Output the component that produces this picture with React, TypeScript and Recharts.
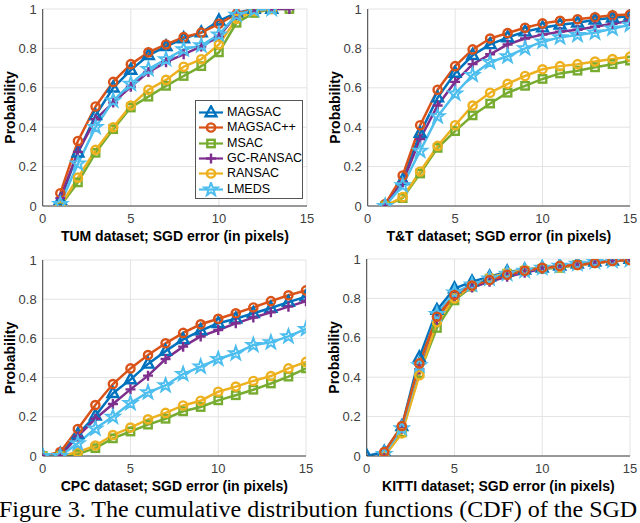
import React from 'react';
import { LineChart, Line, XAxis, YAxis, CartesianGrid, Legend } from 'recharts';

// ---------- series meta ----------
const SERIES = ['MAGSAC', 'MAGSAC++', 'MSAC', 'GC-RANSAC', 'RANSAC', 'LMEDS'];
const COLORS = ['#0072BD', '#D95319', '#77AC30', '#7E2F8E', '#EDB120', '#4DBEEE'];
const MARKERS = ['triangle', 'circle', 'square', 'plus', 'circle', 'star'];

const X_TICKS = [0, 5, 10, 15];
const Y_TICKS = [0, 0.2, 0.4, 0.6, 0.8, 1];

// ---------- TUM ----------
const TUM_X = [1, 2, 3, 4, 5, 6, 7, 8, 9, 10, 11, 12, 13, 14];
const TUM_MAGSAC = [0.03, 0.27, 0.46, 0.6, 0.69, 0.765, 0.81, 0.85, 0.88, 0.94, 0.98, 1.0, 1.0];
const TUM_MAGSACPP = [0.065, 0.33, 0.505, 0.63, 0.72, 0.78, 0.82, 0.857, 0.88, 0.925, 0.975, 1.0, 1.0];
const TUM_MSAC = [0.0, 0.12, 0.27, 0.39, 0.5, 0.555, 0.61, 0.66, 0.71, 0.78, 0.93, 0.98, 1.0, 1.0];
const TUM_GC = [0.04, 0.275, 0.44, 0.525, 0.605, 0.68, 0.73, 0.77, 0.81, 0.86, 0.97, 0.99, 1.0, 1.0];
const TUM_RANSAC = [0.0, 0.144, 0.285, 0.4, 0.51, 0.59, 0.64, 0.707, 0.745, 0.82, 0.95, 0.99, 1.0];
const TUM_LMEDS = [0.01, 0.215, 0.4, 0.535, 0.62, 0.695, 0.745, 0.795, 0.815, 0.87, 0.97, 0.995, 1.0];

// ---------- T&T ----------
const TT_X = [1, 2, 3, 4, 5, 6, 7, 8, 9, 10, 11, 12, 13, 14, 15];
const TT_MAGSAC = [0.0, 0.13, 0.37, 0.55, 0.675, 0.765, 0.82, 0.855, 0.885, 0.905, 0.92, 0.93, 0.945, 0.955, 0.965];
const TT_MAGSACPP = [0.01, 0.155, 0.41, 0.59, 0.71, 0.795, 0.85, 0.878, 0.905, 0.927, 0.94, 0.948, 0.958, 0.968, 0.972];
const TT_MSAC = [0.0, 0.04, 0.165, 0.295, 0.38, 0.46, 0.52, 0.575, 0.61, 0.645, 0.673, 0.687, 0.704, 0.72, 0.738];
const TT_GC = [0.0, 0.12, 0.34, 0.51, 0.63, 0.72, 0.77, 0.82, 0.85, 0.87, 0.885, 0.895, 0.91, 0.925, 0.94];
const TT_RANSAC = [0.0, 0.045, 0.175, 0.305, 0.41, 0.51, 0.575, 0.62, 0.66, 0.694, 0.71, 0.72, 0.733, 0.746, 0.758];
const TT_LMEDS = [0.0, 0.105, 0.28, 0.455, 0.57, 0.665, 0.73, 0.76, 0.8, 0.834, 0.856, 0.868, 0.88, 0.9, 0.92];

// ---------- CPC ----------
const CPC_X = [0, 1, 2, 3, 4, 5, 6, 7, 8, 9, 10, 11, 12, 13, 14, 15];
const CPC_MAGSAC = [0.0, 0.01, 0.11, 0.205, 0.32, 0.39, 0.47, 0.535, 0.595, 0.64, 0.677, 0.7, 0.728, 0.755, 0.785, 0.813];
const CPC_MAGSACPP = [0.0, 0.02, 0.138, 0.26, 0.367, 0.447, 0.515, 0.575, 0.628, 0.672, 0.7, 0.728, 0.758, 0.79, 0.82, 0.845];
const CPC_MSAC = [0.0, 0.0, 0.01, 0.04, 0.09, 0.125, 0.16, 0.19, 0.228, 0.25, 0.284, 0.31, 0.338, 0.37, 0.405, 0.447];
const CPC_GC = [0.0, 0.0, 0.1, 0.19, 0.265, 0.34, 0.41, 0.495, 0.558, 0.61, 0.643, 0.677, 0.706, 0.733, 0.762, 0.79];
const CPC_RANSAC = [0.0, 0.0, 0.02, 0.053, 0.107, 0.145, 0.187, 0.22, 0.258, 0.282, 0.328, 0.354, 0.383, 0.408, 0.447, 0.48];
const CPC_LMEDS = [0.0, 0.0, 0.065, 0.14, 0.2, 0.27, 0.325, 0.36, 0.418, 0.456, 0.495, 0.524, 0.566, 0.58, 0.61, 0.648];

// ---------- KITTI ----------
const KITTI_X = [0, 1, 2, 3, 4, 5, 6, 7, 8, 9, 10, 11, 12, 13, 14, 15];
const KITTI_MAGSAC = [0.0, 0.02, 0.15, 0.5, 0.74, 0.85, 0.885, 0.91, 0.935, 0.945, 0.955, 0.965, 0.975, 0.985, 0.99, 1.0];
const KITTI_MAGSACPP = [null, 0.02, 0.152, 0.47, 0.707, 0.817, 0.865, 0.893, 0.92, 0.94, 0.955, 0.965, 0.97, 0.98, 0.99, 0.995];
const KITTI_MSAC = [null, 0.0, 0.12, 0.42, 0.65, 0.79, 0.86, 0.9, 0.925, 0.94, 0.95, 0.955, 0.97, 0.98, 0.99, 0.995];
const KITTI_GC = [null, 0.0, 0.14, 0.44, 0.69, 0.81, 0.855, 0.885, 0.91, 0.93, 0.95, 0.96, 0.97, 0.98, 0.99, 0.995];
const KITTI_RANSAC = [null, 0.0, 0.115, 0.41, 0.68, 0.8, 0.865, 0.905, 0.93, 0.945, 0.955, 0.96, 0.97, 0.98, 0.99, 0.995];
const KITTI_LMEDS = [null, 0.01, 0.14, 0.46, 0.72, 0.83, 0.87, 0.9, 0.925, 0.94, 0.955, 0.965, 0.975, 0.985, 0.99, 0.995];

const buildRows = (xs: number[], cols: (number | null)[][]) =>
  xs.map((x, i) => {
    const row: Record<string, number | null> = { x };
    SERIES.forEach((s, k) => {
      const v = cols[k][i];
      row[s] = v === undefined ? null : v;
    });
    return row;
  });

const TUM_DATA = buildRows(TUM_X, [TUM_MAGSAC, TUM_MAGSACPP, TUM_MSAC, TUM_GC, TUM_RANSAC, TUM_LMEDS]);
const TT_DATA = buildRows(TT_X, [TT_MAGSAC, TT_MAGSACPP, TT_MSAC, TT_GC, TT_RANSAC, TT_LMEDS]);
const CPC_DATA = buildRows(CPC_X, [CPC_MAGSAC, CPC_MAGSACPP, CPC_MSAC, CPC_GC, CPC_RANSAC, CPC_LMEDS]);
const KITTI_DATA = buildRows(KITTI_X, [KITTI_MAGSAC, KITTI_MAGSACPP, KITTI_MSAC, KITTI_GC, KITTI_RANSAC, KITTI_LMEDS]);

const FONT = '"Liberation Sans", Arial, Helvetica, sans-serif';

// ---------- markers ----------
function Marker({ type, color, cx, cy }: { type: string; color: string; cx: number; cy: number }) {
  const sw = 2.4;
  if (type === 'circle') {
    return <circle cx={cx} cy={cy} r={4.1} fill="none" stroke={color} strokeWidth={sw} />;
  }
  if (type === 'triangle') {
    const pts = `${cx},${cy - 6.2} ${cx - 5.4},${cy + 3.7} ${cx + 5.4},${cy + 3.7}`;
    return <polygon points={pts} fill="none" stroke={color} strokeWidth={sw} strokeLinejoin="miter" />;
  }
  if (type === 'square') {
    return <rect x={cx - 3.7} y={cy - 3.7} width={7.4} height={7.4} fill="none" stroke={color} strokeWidth={sw} />;
  }
  if (type === 'plus') {
    return (
      <g stroke={color} strokeWidth={sw}>
        <line x1={cx - 5} y1={cy} x2={cx + 5} y2={cy} />
        <line x1={cx} y1={cy - 5} x2={cx} y2={cy + 5} />
      </g>
    );
  }
  // star (pentagram)
  const R = 7;
  const r = 2.8;
  const pts: string[] = [];
  for (let k = 0; k < 10; k++) {
    const ang = -Math.PI / 2 + (k * Math.PI) / 5;
    const rad = k % 2 === 0 ? R : r;
    pts.push(`${cx + rad * Math.cos(ang)},${cy + rad * Math.sin(ang)}`);
  }
  return <polygon points={pts.join(' ')} fill="none" stroke={color} strokeWidth={2} strokeLinejoin="miter" />;
}

const makeDot = (type: string, color: string) => (props: any) => {
  const { cx, cy, index } = props;
  if (cx == null || cy == null || Number.isNaN(cx) || Number.isNaN(cy) || props.value == null) {
    return <g key={`e-${index}`} />;
  }
  return (
    <g key={`d-${index}`}>
      <Marker type={type} color={color} cx={cx} cy={cy} />
    </g>
  );
};

// ---------- legend ----------
const LegendBox = () => (
  <div
    style={{
      border: '1px solid #555',
      background: '#fff',
      width: 108,
      boxSizing: 'border-box',
      padding: '4px 0 1px 0',
    }}
  >
    {SERIES.map((s, i) => (
      <div key={s} style={{ display: 'flex', alignItems: 'center', height: 15.3 }}>
        <svg width={30} height={15} style={{ display: 'block', flex: 'none' }}>
          <line x1={3} y1={7.5} x2={27} y2={7.5} stroke={COLORS[i]} strokeWidth={2.2} />
          <Marker type={MARKERS[i]} color={COLORS[i]} cx={15} cy={7.5} />
        </svg>
        <span style={{ fontFamily: FONT, fontSize: 12.5, color: '#000', marginLeft: 1, lineHeight: '15px', whiteSpace: 'nowrap' }}>
          {s}
        </span>
      </div>
    ))}
  </div>
);

// ---------- y title ----------
const makeYTitle = (plotLeft: number) => (props: any) => {
  const vb = props && props.viewBox ? props.viewBox : null;
  const top = vb ? vb.y : 9;
  const h = vb ? vb.height : 197;
  const x = plotLeft - 33;
  const y = top + h / 2;
  return (
    <text
      x={x}
      y={y}
      transform={`rotate(-90 ${x} ${y})`}
      textAnchor="middle"
      dominantBaseline="central"
      fontFamily={FONT}
      fontSize={14}
      fontWeight="bold"
      fill="#000"
    >
      Probability
    </text>
  );
};

type PanelProps = {
  data: Record<string, number | null>[];
  title: string;
  left: number;
  top: number;
  plotLeft: number;
  right: number;
  plotTop: number;
  order: number[];
  legend?: boolean;
};

function Panel({ data, title, left, top, plotLeft, right, plotTop, order, legend }: PanelProps) {
  const W = 320;
  const H = 245;
  return (
    <div style={{ position: 'absolute', left, top, width: W, height: H }}>
      <LineChart width={W} height={H} data={data} margin={{ top: plotTop, right, bottom: 0, left: 0 }}>
        <CartesianGrid stroke="#e3e3e3" strokeWidth={1} />
        <XAxis
          dataKey="x"
          type="number"
          domain={[0, 15]}
          ticks={X_TICKS}
          allowDataOverflow
          height={39}
          tickLine={false}
          tickSize={6}
          tickMargin={2}
          axisLine={{ stroke: '#404040', strokeWidth: 1 }}
          tick={{ fill: '#404040', fontSize: 13, fontFamily: FONT }}
          label={{
            value: title,
            position: 'insideBottom',
            offset: 4,
            fill: '#000',
            fontSize: 14,
            fontWeight: 'bold',
            fontFamily: FONT,
          }}
        />
        <YAxis
          type="number"
          domain={[0, 1]}
          ticks={Y_TICKS}
          allowDataOverflow
          width={plotLeft}
          tickLine={false}
          tickSize={6}
          tickMargin={0}
          axisLine={{ stroke: '#404040', strokeWidth: 1 }}
          tick={{ fill: '#404040', fontSize: 13, fontFamily: FONT }}
          label={makeYTitle(plotLeft)}
        />
        {order.map((k) => (
          <Line
            key={SERIES[k]}
            dataKey={SERIES[k]}
            type="linear"
            stroke={COLORS[k]}
            strokeWidth={2.5}
            dot={makeDot(MARKERS[k], COLORS[k])}
            activeDot={false}
            isAnimationActive={false}
            connectNulls={false}
          />
        ))}
        {legend ? (
          <Legend
            layout="vertical"
            align="center"
            verticalAlign="middle"
            content={<LegendBox />}
            wrapperStyle={{ position: 'absolute', left: 195, top: 100, width: 'auto', height: 'auto' }}
          />
        ) : null}
      </LineChart>
    </div>
  );
}

const DEFAULT_ORDER = [0, 1, 2, 3, 4, 5];
const KITTI_ORDER = [0, 2, 3, 4, 5, 1];

export default function App() {
  return (
    <div
      style={{
        position: 'absolute',
        left: 0,
        top: 0,
        width: 640,
        height: 523,
        background: '#fff',
        overflow: 'hidden',
      }}
    >
      <Panel data={TUM_DATA} title="TUM dataset; SGD error (in pixels)" left={0} top={0} plotLeft={42.7} right={13} plotTop={9} order={DEFAULT_ORDER} legend />
      <Panel data={TT_DATA} title="T&T dataset; SGD error (in pixels)" left={320} top={0} plotLeft={47.7} right={10} plotTop={9} order={DEFAULT_ORDER} />
      <Panel data={CPC_DATA} title="CPC dataset; SGD error (in pixels)" left={0} top={250} plotLeft={42.7} right={14} plotTop={10} order={DEFAULT_ORDER} />
      <Panel data={KITTI_DATA} title="KITTI dataset; SGD error (in pixels)" left={320} top={250} plotLeft={46.7} right={10} plotTop={9} order={KITTI_ORDER} />
      <div
        style={{
          position: 'absolute',
          left: -1,
          top: 496,
          fontFamily: '"Liberation Serif", "Times New Roman", serif',
          fontSize: 24,
          lineHeight: '27px',
          color: '#000',
          whiteSpace: 'nowrap',
        }}
      >
        Figure 3. The cumulative distribution functions (CDF) of the SGD
      </div>
    </div>
  );
}
